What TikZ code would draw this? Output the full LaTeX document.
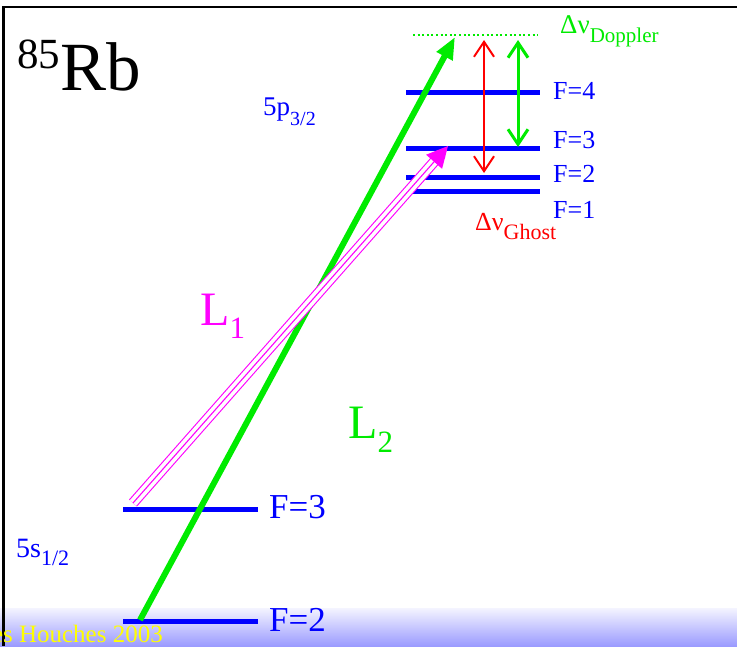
\documentclass[tikz,border=0pt]{standalone}
\usepackage{fontspec}
\setmainfont{Liberation Serif}
\usetikzlibrary{arrows.meta}

\definecolor{lvlblue}{RGB}{0,0,255}
\definecolor{beamgreen}{RGB}{0,235,0}
\definecolor{beammag}{RGB}{255,0,255}
\definecolor{ghostred}{RGB}{255,0,0}
\definecolor{bandtop}{RGB}{244,244,255}
\definecolor{bandbot}{RGB}{155,155,255}
\definecolor{footyel}{RGB}{255,255,0}

\newcommand{\fs}[1]{\fontsize{#1}{#1}\selectfont}
\newcommand{\lowsub}[3]{\raisebox{-#2pt}{\fs{#1}#3}}

\begin{document}
\begin{tikzpicture}[
  x=1pt,y=-1pt,
  level/.style={draw=lvlblue, line width=5pt},
  flabel/.style={text=lvlblue, anchor=west, inner sep=0pt},
  termtxt/.style={text=lvlblue, anchor=base west, inner sep=0pt},
  frame/.style={black, line width=2.5pt},
  pumpbeam/.style={beamgreen, line width=6pt, -{Triangle[length=22pt,width=17pt]}},
  probebeam/.style={beammag, line width=1.1pt},
  widtharrow/.style={line width=2pt, {Straight Barb[length=15pt,width=20pt]}-{Straight Barb[length=15pt,width=20pt]}}
]
\useasboundingbox (0,0) rectangle (737,646);
\fill[white] (0,0) rectangle (737,646);

% ----------------------------- Frame and footer -----------------------------
\shade[top color=bandtop, bottom color=bandbot] (0,608) rectangle (737,646);
\draw[frame] (3.5,646) -- (3.5,7) -- (737,7);
\node[text=footyel, anchor=base east, inner sep=0pt, font=\fs{25}] (foot) at (163,642) {Les Houches 2003};

\node[anchor=base west, inner sep=0pt] (atom) at (17,90)
  {\raisebox{22pt}{\fs{43}85}\fs{69}Rb};

% ----------------------------- Ground state 5s -----------------------------
\coordinate (g2w) at (123,621);
\coordinate (g2e) at (258,621);
\coordinate (g3w) at (123,509);
\coordinate (g3e) at (258,509);
\draw[level] (g2w) -- (g2e);
\draw[level] (g3w) -- (g3e);
\node[flabel, font=\fs{35}] (g2lab) at (269,620) {F=2};
\node[flabel, font=\fs{35}] (g3lab) at (269,507) {F=3};
\node[termtxt, font=\fs{28}] (sterm) at (16,557) {5s\lowsub{22}{8}{1/2}};

% ----------------------------- Excited state 5p -----------------------------
\foreach \nm/\y in {e4/92, e3/148, e2/177, e1/191}
  {
    \coordinate (\nm w) at (406,\y);
    \coordinate (\nm e) at (540,\y);
    \draw[level] (\nm w) -- (\nm e);
  }
\node[flabel, font=\fs{26}] (e4lab) at (553,91) {F=4};
\node[flabel, font=\fs{26}] (e3lab) at (553,140) {F=3};
\node[flabel, font=\fs{26}] (e2lab) at (553,174) {F=2};
\node[flabel, font=\fs{26}] (e1lab) at (553,210) {F=1};
\node[termtxt, font=\fs{27}] (pterm) at (263,115) {5p\lowsub{20}{10}{3/2}};

% Doppler-shifted virtual level.
\coordinate (dopw) at (413,35);
\coordinate (dope) at (538,35);
\draw[beamgreen, line width=2pt, dash pattern=on 2pt off 2.6pt] (dopw) -- (dope);
\node[text=beamgreen, anchor=base west, inner sep=0pt, font=\fs{27}] (doplab) at (560,33)
  {Δν\lowsub{21}{9}{Doppler}};

% ----------------------------- Laser beams -----------------------------
\coordinate (l2s) at (140,620);
\coordinate (l2e) at (455,37);
\draw[pumpbeam] (l2s) -- (l2e);
\node[text=beamgreen, anchor=base west, inner sep=0pt, font=\fs{48}] (l2lab) at (348,438)
  {L\lowsub{31}{14}{2}};

\coordinate (l1s) at (133,503);
\coordinate (l1e) at (448,146);
\draw[probebeam, double=white, double distance=8.4pt, shorten >=10pt] (l1s) -- (l1e);
\draw[probebeam, -{Triangle[length=21pt,width=21pt]}] (l1s) -- (l1e);
\node[text=beammag, anchor=base west, inner sep=0pt, font=\fs{48}] (l1lab) at (200,325)
  {L\lowsub{31}{13}{1}};

% ----------------------------- Widths -----------------------------
\coordinate (ghtop) at (484,40);
\coordinate (ghbot) at (484,173);
\draw[widtharrow, ghostred] (ghtop) -- (ghbot);
\node[text=ghostred, anchor=base west, inner sep=0pt, font=\fs{26}] (ghlab) at (475,230)
  {Δν\lowsub{22}{9}{Ghost}};

\coordinate (dptop) at (518,40);
\coordinate (dpbot) at (518,147);
\draw[widtharrow, beamgreen, line width=3pt] (dptop) -- (dpbot);

\end{tikzpicture}
\end{document}
